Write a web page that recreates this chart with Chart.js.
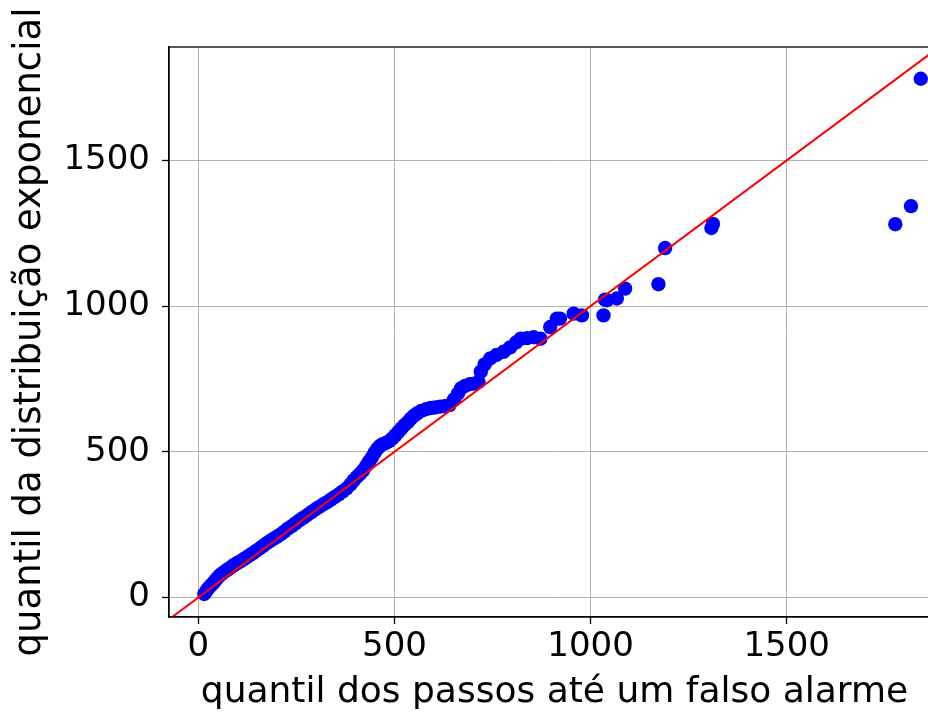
<!DOCTYPE html>
<html>
<head>
<meta charset="utf-8">
<script src="https://cdn.jsdelivr.net/npm/chart.js@4.4.1/dist/chart.umd.min.js"></script>
<style>
  html, body { margin: 0; padding: 0; background: #ffffff; overflow: hidden; width: 928px; height: 718px; }
  #wrap { position: absolute; left: 0; top: 0; width: 960px; height: 718px; }
</style>
</head>
<body>
<div id="wrap"><canvas id="c" width="960" height="718"></canvas></div>
<script>
// Quantile pairs: x = quantil dos passos, y = quantil exponencial
const sampleQuantiles = [
  15, 20, 24, 28, 33, 38, 43, 48, 54, 60, 66, 72, 79, 86, 93, 100, 107, 115, 123, 131,
  139, 147, 156, 165, 174, 183, 192, 201, 210, 219, 228, 238, 248, 258, 268, 278, 288, 298, 308, 318,
  328, 338, 348, 358, 368, 378, 388, 396, 404, 412, 420, 428, 435, 442, 449, 456, 463, 470, 478, 486,
  494, 502, 510, 518, 526, 534, 542, 550, 558, 568, 580, 592, 604, 616, 628, 640, 652, 662, 670, 680,
  692, 704, 714, 720, 730, 744, 760, 778, 795, 810, 822, 838, 855, 872, 897, 914, 922, 957, 978,
  1033, 1037, 1042, 1067, 1088, 1173, 1190, 1308, 1312, 1777, 1817, 1842
];
const exponentialQuantiles = [
  12, 22, 30, 36, 43, 50, 58, 66, 75, 82, 88, 94, 100, 107, 113, 119, 124, 131, 138, 145,
  152, 160, 168, 177, 186, 194, 202, 209, 217, 226, 236, 245, 255, 265, 274, 283, 293, 302, 311, 319,
  327, 336, 345, 354, 364, 374, 388, 402, 414, 424, 436, 452, 466, 480, 496, 510, 520, 526, 530, 536,
  545, 556, 568, 580, 592, 602, 614, 624, 632, 640, 646, 650, 652, 655, 656, 660, 680, 700, 718, 726,
  732, 734, 740, 775, 800, 820, 832, 843, 858, 875, 888, 890, 893, 888, 928, 957, 957, 974, 968,
  968, 1022, 1020, 1026, 1060, 1075, 1199, 1268, 1282, 1281, 1343, 1780
];
// Reference line y = x (endpoints of the red line)
const refLineX = [-80, 1900];
const refLineY = [-80, 1900];
// Axis ticks
const xTickValues = [0, 500, 1000, 1500];
const yTickValues = [0, 500, 1000, 1500];
const xTickLabels = ['0', '500', '1000', '1500'];
const yTickLabels = ['0', '500', '1000', '1500'];
const xTitle = 'quantil dos passos até um falso alarme';
const yTitle = 'quantil da distribuição exponencial';

const scatterData = sampleQuantiles.map((x, i) => ({ x: x, y: exponentialQuantiles[i] }));
const lineData = refLineX.map((x, i) => ({ x: x, y: refLineY[i] }));

const frame = {
  id: 'frame',
  afterDraw(chart) {
    const a = chart.chartArea, ctx = chart.ctx;
    ctx.save();
    ctx.strokeStyle = '#000000';
    ctx.lineWidth = 1.3;
    ctx.strokeRect(a.left, a.top, a.right - a.left, a.bottom - a.top);
    ctx.restore();
  }
};

Chart.defaults.font.family = "'DejaVu Sans', sans-serif";
Chart.defaults.color = '#000000';

new Chart(document.getElementById('c'), {
  type: 'scatter',
  data: {
    datasets: [
      {
        type: 'line',
        data: lineData,
        borderColor: '#ff0000',
        borderWidth: 2,
        pointRadius: 0,
        fill: false,
        order: 0
      },
      {
        type: 'scatter',
        data: scatterData,
        backgroundColor: '#0000ff',
        borderWidth: 0,
        pointRadius: 7.2,
        order: 1
      }
    ]
  },
  options: {
    responsive: false,
    animation: false,
    events: [],
    layout: { padding: { left: 0, top: 47, right: 20, bottom: 0 } },
    plugins: { legend: { display: false }, tooltip: { enabled: false } },
    scales: {
      x: {
        type: 'linear',
        min: -75,
        max: 1891,
        afterBuildTicks(s) { s.ticks = xTickValues.map(v => ({ value: v })); },
        afterFit(s) { s.height = 101; },
        ticks: {
          font: { size: 34 },
          padding: 3,
          maxRotation: 0,
          callback(v) { const i = xTickValues.indexOf(v); return i >= 0 ? xTickLabels[i] : ''; }
        },
        grid: { color: '#b0b0b0', lineWidth: 1, tickColor: '#000000', tickLength: 7, tickWidth: 1.3 },
        border: { color: '#000000', width: 1.3 },
        title: { display: true, text: xTitle, font: { size: 36 }, padding: { top: 0, bottom: 4 } }
      },
      y: {
        type: 'linear',
        min: -67,
        max: 1889,
        afterBuildTicks(s) { s.ticks = yTickValues.map(v => ({ value: v })); },
        afterFit(s) { s.width = 169; },
        ticks: {
          font: { size: 34 },
          padding: 12,
          callback(v) { const i = yTickValues.indexOf(v); return i >= 0 ? yTickLabels[i] : ''; }
        },
        grid: { color: '#b0b0b0', lineWidth: 1, tickColor: '#000000', tickLength: 7, tickWidth: 1.3 },
        border: { color: '#000000', width: 1.3 },
        title: { display: true, text: yTitle, font: { size: 37 }, padding: { top: 8, bottom: 0 } }
      }
    }
  },
  plugins: [frame]
});
</script>
</body>
</html>
